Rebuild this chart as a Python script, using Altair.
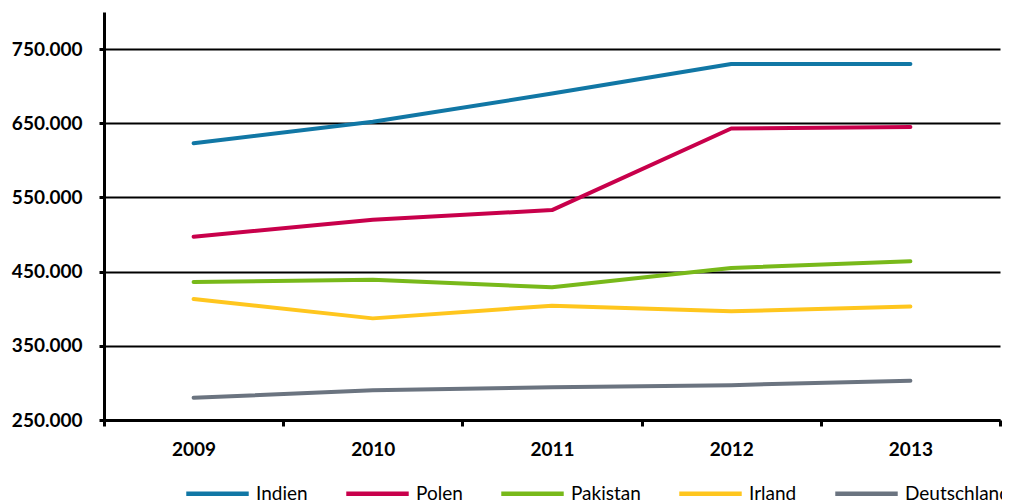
import altair as alt
import pandas as pd

years = ["2009", "2010", "2011", "2012", "2013"]
countries = ["Indien", "Polen", "Pakistan", "Irland", "Deutschland"]
colors = ["#1177a5", "#c8004b", "#78b91a", "#ffc61e", "#6b7480"]
indien = [623000, 652000, 690000, 730000, 730000]
polen = [497000, 520000, 533000, 643000, 645000]
pakistan = [436000, 439000, 429000, 455000, 464000]
irland = [413000, 387000, 404000, 396500, 403000]
deutschland = [280000, 290000, 294000, 297000, 303000]

series = [indien, polen, pakistan, irland, deutschland]
rows = []
for c, vals in zip(countries, series):
    for y, v in zip(years, vals):
        rows.append({"Jahr": y, "Land": c, "Wert": v})
df = pd.DataFrame(rows)

FONT = "Lato"

chart = alt.Chart(df).mark_line(strokeWidth=4, strokeCap="round", strokeJoin="round").encode(
    x=alt.X("Jahr:N", sort=years, title=None,
            scale=alt.Scale(paddingInner=0, paddingOuter=0),
            axis=alt.Axis(labelAngle=0, tickBand="extent", domainColor="black", domainWidth=3,
                          tickColor="black", tickWidth=3, tickSize=6, labelFont=FONT,
                          labelFontSize=19, labelFontWeight="bold", labelColor="black",
                          labelPadding=14, grid=False)),
    y=alt.Y("Wert:Q", title=None,
            scale=alt.Scale(domain=[250000, 800000], nice=False, zero=False),
            axis=alt.Axis(values=[250000, 350000, 450000, 550000, 650000, 750000],
                          labelExpr="replace(format(datum.value, ',d'), ',', '.')",
                          domainColor="black", domainWidth=3, tickColor="black",
                          tickWidth=3, tickSize=5, labelFont=FONT, labelFontSize=19,
                          labelFontWeight="bold", labelColor="black", labelPadding=17,
                          grid=True, gridColor="black", gridWidth=2, gridOpacity=1)),
    color=alt.Color("Land:N", sort=countries,
                    scale=alt.Scale(domain=countries, range=colors),
                    legend=alt.Legend(title=None, orient="none", direction="horizontal",
                                      legendX=80, legendY=448, symbolType="stroke",
                                      symbolSize=3900, symbolStrokeWidth=4.5,
                                      labelFont=FONT, labelFontSize=19, labelColor="black",
                                      labelOffset=5, columnPadding=29)),
).properties(
    width=896, height=408,
    padding={"left": 96, "top": 4, "right": 2, "bottom": 81},
    autosize=alt.AutoSizeParams(type="none"),
).configure_view(stroke=None)

chart.save("out.html", embed_options={"renderer": "svg", "actions": False})
